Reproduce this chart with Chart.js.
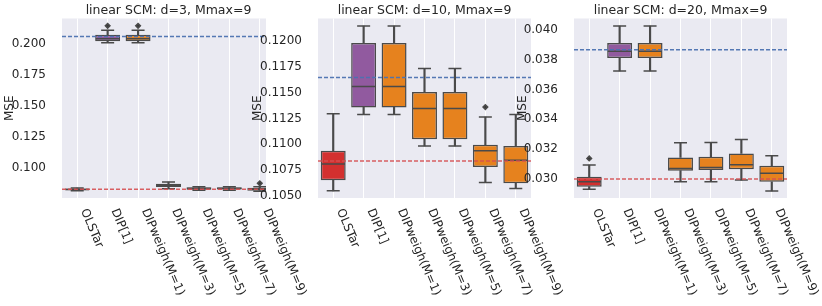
<!DOCTYPE html>
<html>
<head>
<meta charset="utf-8">
<script src="https://cdn.jsdelivr.net/npm/chart.js@4.4.0/dist/chart.umd.min.js"></script>
<style>
  html, body { margin: 0; padding: 0; background: #fff; width: 822px; height: 306px; overflow: hidden; }
  canvas { position: absolute; top: 0; }
</style>
</head>
<body>
<canvas id="c1" width="320" height="306" style="left:0px"></canvas>
<canvas id="c2" width="325" height="306" style="left:250px"></canvas>
<canvas id="c3" width="313" height="306" style="left:509px"></canvas>
<script>
// ---------------- data ----------------
var categories = ["OLSTar", "DIP[1]", "DIPweigh(M=1)", "DIPweigh(M=3)", "DIPweigh(M=5)", "DIPweigh(M=7)", "DIPweigh(M=9)"];
var boxColors = ["#d3302f", "#915a9f", "#e6821e", "#e6821e", "#e6821e", "#e6821e", "#e6821e"];

// d=3
var d3Lo  = [0.0818, 0.2008, 0.2008, 0.0834, 0.0822, 0.0823, 0.0815];
var d3Q1  = [0.0822, 0.2021, 0.2021, 0.0848, 0.0827, 0.0828, 0.0819];
var d3Med = [0.0829, 0.2040, 0.2040, 0.0862, 0.0836, 0.0837, 0.0833];
var d3Q3  = [0.0836, 0.2072, 0.2072, 0.0875, 0.0846, 0.0846, 0.0843];
var d3Hi  = [0.0840, 0.2109, 0.2109, 0.0888, 0.0850, 0.0851, 0.0851];
var d3Out = [null, 0.2144, 0.2144, null, null, null, 0.0878];
var d3Blue = 0.2059, d3Red = 0.0830;
var d3Ticks = ["0.100", "0.125", "0.150", "0.175", "0.200"];

// d=10
var d10Lo  = [0.10551, 0.11288, 0.11288, 0.10984, 0.10984, 0.10631, 0.10574];
var d10Q1  = [0.10654, 0.11356, 0.11356, 0.11048, 0.11048, 0.10782, 0.10625];
var d10Med = [0.10811, 0.11558, 0.11558, 0.11346, 0.11346, 0.10939, 0.10846];
var d10Q3  = [0.10939, 0.11978, 0.11978, 0.11506, 0.11506, 0.10997, 0.10984];
var d10Hi  = [0.11295, 0.12141, 0.12141, 0.11731, 0.11731, 0.11263, 0.11288];
var d10Out = [null, null, null, null, null, 0.11359, null];
var d10Blue = 0.11645, d10Red = 0.10839;
var d10Ticks = ["0.1050", "0.1075", "0.1100", "0.1125", "0.1150", "0.1175", "0.1200"];

// d=20
var d20Lo  = [0.02931, 0.03724, 0.03724, 0.02982, 0.02982, 0.02993, 0.02920];
var d20Q1  = [0.02949, 0.03811, 0.03811, 0.03056, 0.03060, 0.03065, 0.02982];
var d20Med = [0.02982, 0.03855, 0.03855, 0.03071, 0.03078, 0.03096, 0.03038];
var d20Q3  = [0.03016, 0.03911, 0.03911, 0.03145, 0.03149, 0.03171, 0.03089];
var d20Hi  = [0.03094, 0.04024, 0.04024, 0.03243, 0.03245, 0.03265, 0.03156];
var d20Out = [0.03138, null, null, null, null, null, null];
var d20Blue = 0.03866, d20Red = 0.0300;
var d20Ticks = ["0.030", "0.032", "0.034", "0.036", "0.038", "0.040"];

// ---------------- drawing ----------------
var FONT = "'DejaVu Sans', sans-serif";
var TXT = "#262626";
var EDGE = "#4a4a4a";

//=========== plot background + optional white cover on the left ===========//
var bgPlugin = {
  id: "bg",
  beforeDraw: function(chart, args, opts) {
    var a = chart.chartArea, ctx = chart.ctx;
    ctx.save();
    if (opts.coverFrom) {
      ctx.fillStyle = "#ffffff";
      ctx.fillRect(opts.coverFrom, 0, a.left - opts.coverFrom, a.bottom);
    }
    ctx.fillStyle = "#eaeaf2";
    ctx.fillRect(a.left, a.top, a.right - a.left, a.bottom - a.top);
    ctx.restore();
  }
};

//=========== dashed reference lines ===========//
function dashLine(chart, value, color) {
  var a = chart.chartArea, ctx = chart.ctx;
  var py = chart.scales.y.getPixelForValue(value);
  ctx.save();
  ctx.setLineDash([4, 2]);
  ctx.lineWidth = 1.5;
  ctx.strokeStyle = color;
  ctx.beginPath();
  ctx.moveTo(a.left, py);
  ctx.lineTo(a.right, py);
  ctx.stroke();
  ctx.restore();
}
var refPlugin = {
  id: "refs",
  afterDatasetsDraw: function(chart, args, opts) {
    dashLine(chart, opts.blue, "rgba(76,114,176,0.95)");
    dashLine(chart, opts.red, "rgba(214,80,82,0.9)");
  }
};

//=========== rotated category labels (matplotlib style) ===========//
var xLabelPlugin = {
  id: "xlabels",
  afterDraw: function(chart) {
    var ctx = chart.ctx, x = chart.scales.x, a = chart.chartArea;
    var th = 67 * Math.PI / 180;
    ctx.save();
    ctx.font = "12px " + FONT;
    ctx.fillStyle = TXT;
    ctx.textAlign = "left";
    ctx.textBaseline = "top";
    categories.forEach(function(lab, i) {
      var px = x.getPixelForValue(i);
      ctx.save();
      ctx.translate(px + 13 * Math.sin(th), a.bottom + 9);
      ctx.rotate(th);
      ctx.fillText(lab, 0, 0);
      ctx.restore();
    });
    ctx.restore();
  }
};

function makePanel(id, title, lo, q1, med, q3, hi, out, blue, red, tickLabels, yMin, yMax, yWidth, padRight, titlePad, coverFrom) {
  var ctx = document.getElementById(id).getContext("2d");
  var tickVals = tickLabels.map(function(t) { return parseFloat(t); });
  var boxes = q1.map(function(v, i) { return [v, q3[i]]; });
  var lower = lo.map(function(v, i) { return [v, q1[i]]; });
  var upper = hi.map(function(v, i) { return [q3[i], v]; });
  var pt = function(style, r, data, order, fill) {
    return {
      type: "line", data: data, showLine: false, order: order,
      pointStyle: style, pointRadius: r, pointHoverRadius: r,
      pointBorderColor: EDGE, pointBackgroundColor: fill || EDGE, pointBorderWidth: 1.5
    };
  };
  return new Chart(ctx, {
    type: "bar",
    data: {
      labels: categories,
      datasets: [
        { data: lower, backgroundColor: EDGE, barThickness: 1.5, grouped: false, order: 5 },
        { data: upper, backgroundColor: EDGE, barThickness: 1.5, grouped: false, order: 5 },
        { data: boxes, backgroundColor: boxColors, borderColor: EDGE, borderWidth: 1.5,
          borderSkipped: false, barPercentage: 0.82, categoryPercentage: 1, grouped: false, order: 4 },
        pt("line", 6.5, lo, 3),
        pt("line", 6.5, hi, 3),
        pt("line", 11.8, med, 2),
        pt("rectRot", 2.3, out, 1, "#3a3a3a")
      ]
    },
    options: {
      responsive: false,
      devicePixelRatio: 1,
      animation: false,
      events: [],
      layout: { padding: { left: 0, right: padRight, top: 0, bottom: 108 } },
      plugins: {
        legend: { display: false },
        tooltip: { enabled: false },
        title: {
          display: true, text: title, fullSize: false, color: TXT,
          font: { family: FONT, size: 12.5, weight: "normal" },
          padding: { top: 3.5, bottom: 0 }
        },
        bg: { coverFrom: coverFrom },
        refs: { blue: blue, red: red }
      },
      scales: {
        x: {
          offset: true,
          grid: { display: true, color: "#ffffff", lineWidth: 1, offset: false, drawTicks: false },
          border: { display: false },
          ticks: { display: false },
          afterFit: function(s) { s.height = 0; }
        },
        y: {
          min: yMin, max: yMax,
          grid: { display: false },
          border: { display: false },
          afterBuildTicks: function(s) { s.ticks = tickVals.map(function(v) { return { value: v }; }); },
          ticks: {
            padding: 8, color: TXT, font: { family: FONT, size: 12 },
            callback: function(v, i) { return tickLabels[i]; }
          },
          title: { display: true, text: "MSE", color: TXT, font: { family: FONT, size: 12 }, padding: { top: titlePad, bottom: 0 } },
          afterFit: function(s) { s.width = yWidth; }
        }
      }
    },
    plugins: [bgPlugin, refPlugin, xLabelPlugin]
  });
}

makePanel("c1", "linear SCM: d=3, Mmax=9", d3Lo, d3Q1, d3Med, d3Q3, d3Hi, d3Out, d3Blue, d3Red, d3Ticks,
  0.0760, 0.2203, 62, 45, 3, 0);
makePanel("c2", "linear SCM: d=10, Mmax=9", d10Lo, d10Q1, d10Med, d10Q3, d10Hi, d10Out, d10Blue, d10Red, d10Ticks,
  0.10482, 0.12214, 68, 44, 1, 16);
makePanel("c3", "linear SCM: d=20, Mmax=9", d20Lo, d20Q1, d20Med, d20Q3, d20Hi, d20Out, d20Blue, d20Red, d20Ticks,
  0.02873, 0.04075, 65, 35, 7, 0);
</script>
</body>
</html>
